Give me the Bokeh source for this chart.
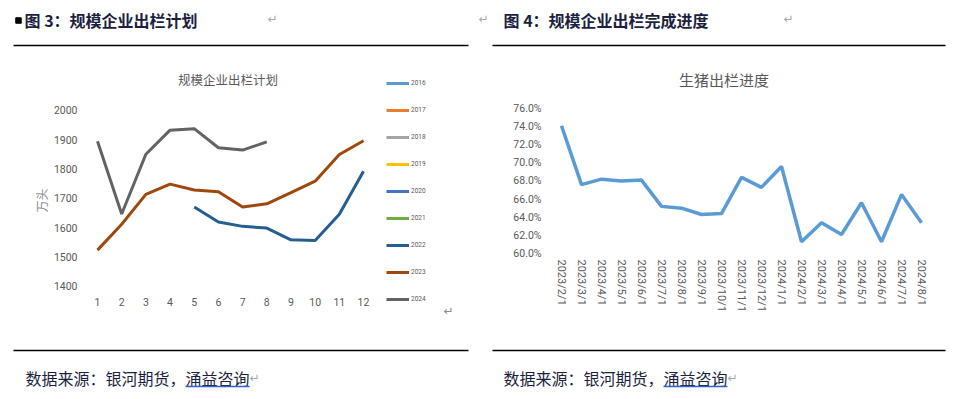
from bokeh.plotting import figure
from bokeh.layouts import column, row
from bokeh.models import (Range1d, FixedTicker, NumeralTickFormatter, Legend,
                          LegendItem, Label, FactorRange)
from bokeh.core.properties import value
from bokeh.embed import file_html
from bokeh.resources import INLINE

nan = float("nan")

# ---------------- data ----------------
months = [1, 2, 3, 4, 5, 6, 7, 8, 9, 10, 11, 12]
years = ["2016", "2017", "2018", "2019", "2020", "2021", "2022", "2023", "2024"]
year_colors = ["#5B9BD5", "#ED7D31", "#A5A5A5", "#FFC000", "#4472C4",
               "#70AD47", "#255E91", "#9E480E", "#636363"]
plan_2016 = [nan] * 12
plan_2017 = [nan] * 12
plan_2018 = [nan] * 12
plan_2019 = [nan] * 12
plan_2020 = [nan] * 12
plan_2021 = [nan] * 12
plan_2022 = [nan, nan, nan, nan, 1671, 1620, 1605, 1599, 1559, 1557, 1646, 1793]
plan_2023 = [1524, 1612, 1714, 1749, 1729, 1723, 1671, 1682, 1720, 1759, 1850, 1897]
plan_2024 = [1895, 1647, 1851, 1933, 1938, 1873, 1865, 1893, nan, nan, nan, nan]
plan_series = [plan_2016, plan_2017, plan_2018, plan_2019, plan_2020,
               plan_2021, plan_2022, plan_2023, plan_2024]
plan_ticks = [1400, 1500, 1600, 1700, 1800, 1900, 2000]

dates = ["2023/2/1", "2023/3/1", "2023/4/1", "2023/5/1", "2023/6/1", "2023/7/1",
         "2023/8/1", "2023/9/1", "2023/10/1", "2023/11/1", "2023/12/1", "2024/1/1",
         "2024/2/1", "2024/3/1", "2024/4/1", "2024/5/1", "2024/6/1", "2024/7/1",
         "2024/8/1"]
progress = [0.741, 0.676, 0.682, 0.680, 0.681, 0.652, 0.650, 0.643, 0.644,
            0.684, 0.673, 0.696, 0.613, 0.634, 0.621, 0.656, 0.613, 0.665, 0.634]
progress_ticks = [0.60, 0.62, 0.64, 0.66, 0.68, 0.70, 0.72, 0.74, 0.76]

header_texts = ["图 3：规模企业出栏计划", "图 4：规模企业出栏完成进度"]
chart_titles = ["规模企业出栏计划", "生猪出栏进度"]
footer_text = "数据来源：银河期货，涌益咨询"

CJK = "Noto Sans CJK SC"
NUM = "Roboto"
DOC = "#1c1f3f"
GREY = "#595959"


def deco_fig(w, h, top, bottom):
    f = figure(width=w, height=h, x_range=Range1d(0, w),
               y_range=Range1d(bottom, top), output_backend="svg",
               toolbar_location=None, x_axis_location=None, y_axis_location=None,
               min_border=0, outline_line_color=None)
    f.grid.visible = False
    return f


def clean_axes(p):
    for ax in (p.xaxis, p.yaxis):
        ax.axis_line_color = None
        ax.major_tick_line_color = None
        ax.minor_tick_line_color = None
        ax.major_tick_out = 0
        ax.major_tick_in = 0
        ax.minor_tick_out = 0
        ax.minor_tick_in = 0
        ax.major_label_text_font = NUM
        ax.major_label_text_color = GREY
    p.grid.visible = False


# ---------------- header ----------------
hdr = deco_fig(967, 48, 0, 48)
hdr.rect(x=[18], y=[20], width=5.5, height=5.5, color="black")
hdr.text(x=[24, 503], y=[19.5, 19.5], text=header_texts, text_font=value(CJK),
         text_font_style="bold", text_font_size="16px", text_color=DOC,
         text_baseline="middle", text_align="left")
hdr.text(x=[267, 478, 783], y=[18, 18, 18], text=["↵", "↵", "↵"],
         text_font=value("DejaVu Sans"), text_font_size="12px",
         text_color="#a6a6a6", text_baseline="middle")
hdr.segment(x0=[13, 492], y0=[45, 45], x1=[468, 945], y1=[45, 45],
            line_color="black", line_width=1.3)

# ---------------- left chart ----------------
# frame spans the legend area too; the axes only tick 1..12 and 1400..2000
pl = figure(width=488, height=295, x_range=Range1d(0.504, 16.01),
            y_range=Range1d(1256.8, 2129.5), output_backend="svg",
            toolbar_location=None, min_border_left=85, min_border_right=28,
            min_border_top=24, min_border_bottom=15, outline_line_color=None)

items = []
for yr, col, vals in zip(years, year_colors, plan_series):
    r = pl.line(months, vals, line_color=col, line_width=3)
    items.append(LegendItem(label=yr, renderers=[r]))
leg = Legend(items=items, location=(301, 19), padding=0, margin=0,
             spacing=7, glyph_width=23, glyph_height=20, label_height=20,
             label_standoff=2, label_text_font=NUM, label_text_font_size="6.5px",
             label_text_color=GREY, border_line_color=None,
             background_fill_alpha=0)
pl.add_layout(leg)

pl.add_layout(Label(x=6.4, y=2105.7, text=chart_titles[0], text_align="center",
                    text_baseline="middle", text_font=CJK,
                    text_font_size="12.5px", text_color=GREY))
pl.add_layout(Label(x=15.52, y=1318, text="↵", text_align="center",
                    text_baseline="middle", text_font="DejaVu Sans",
                    text_font_size="12px", text_color="#8c8c8c"))

pl.xaxis.ticker = FixedTicker(ticks=months)
pl.yaxis.ticker = FixedTicker(ticks=plan_ticks)
pl.yaxis.axis_label = "万头"
pl.yaxis.axis_label_text_font = CJK
pl.yaxis.axis_label_text_font_style = "normal"
pl.yaxis.axis_label_text_font_size = "12px"
pl.yaxis.axis_label_text_color = "#8c8c8c"
pl.yaxis.axis_label_standoff = 1
clean_axes(pl)
pl.yaxis.major_label_standoff = 8
pl.xaxis.major_label_standoff = -31
pl.xaxis.major_label_text_font_size = "10.5px"
pl.yaxis.major_label_text_font_size = "10.5px"

# ---------------- right chart ----------------
pr = figure(width=479, height=295, x_range=FactorRange(*dates),
            y_range=Range1d(0.51724, 0.79972), output_backend="svg",
            toolbar_location=None, min_border_left=63, min_border_right=36,
            min_border_top=24, min_border_bottom=15, outline_line_color=None)
pr.add_layout(Label(x=8.625, y=0.792, text=chart_titles[1], text_align="center",
                    text_baseline="middle", text_font=CJK,
                    text_font_size="15px", text_color=GREY))

pr.line(dates, progress, line_color="#5B9BD5", line_width=3.5)
pr.yaxis.ticker = FixedTicker(ticks=progress_ticks)
pr.yaxis.formatter = NumeralTickFormatter(format="0.0%")
clean_axes(pr)
pr.yaxis.major_label_standoff = 10
pr.xaxis.major_label_orientation = "vertical"
pr.xaxis.major_label_standoff = -69
pr.yaxis.major_label_text_font_size = "10.5px"
pr.xaxis.major_label_text_font_size = "11px"

# ---------------- footer ----------------
ftr = deco_fig(967, 48, 343, 391)
ftr.segment(x0=[13, 492], y0=[350, 350], x1=[468, 945], y1=[350, 350],
            line_color="black", line_width=1.3)
fs = 16
ftr.text(x=[25, 503], y=[377.5, 377.5], text=[footer_text, footer_text],
         text_font=value(CJK), text_font_size=f"{fs}px", text_color=DOC,
         text_baseline="middle", text_align="left")
ftr.segment(x0=[25 + 10 * fs, 503 + 10 * fs], y0=[386, 386],
            x1=[25 + 14 * fs, 503 + 14 * fs], y1=[386, 386],
            line_color="#2f5fd0", line_width=1.3)
ftr.text(x=[25 + 14 * fs, 503 + 14 * fs], y=[377, 377], text=["↵", "↵"],
         text_font=value("DejaVu Sans"), text_font_size="12px",
         text_color="#a6a6a6", text_baseline="middle")

layout = column(hdr, row(pl, pr), ftr)
open("out.html", "w").write(file_html(layout, INLINE))
